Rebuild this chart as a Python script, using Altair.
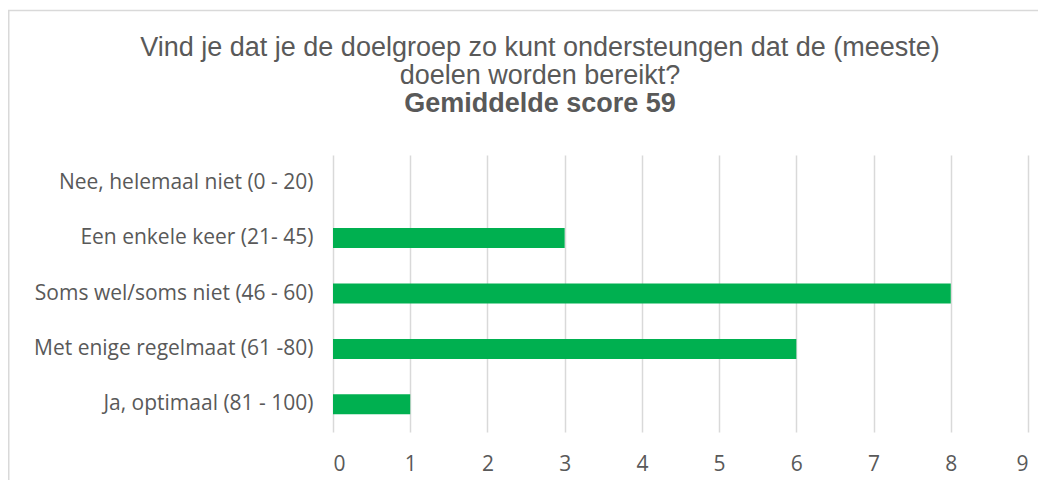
import altair as alt
import pandas as pd

categories = [
    "Nee, helemaal niet (0 - 20)",
    "Een enkele keer (21- 45)",
    "Soms wel/soms niet (46 - 60)",
    "Met enige regelmaat (61 -80)",
    "Ja, optimaal (81 - 100)",
]
counts = [0, 3, 8, 6, 1]
x_ticks = list(range(0, 10))

title_lines = [
    "Vind je dat je de doelgroep zo kunt ondersteungen dat de (meeste)",
    "doelen worden bereikt?",
]
subtitle = "Gemiddelde score 59"

df = pd.DataFrame({"cat": categories, "n": counts})

PL, PT = 325, 147  # padding left / top
W, H = 695, 277

bars = alt.Chart(df).mark_bar(color="#00B050", size=20).encode(
    x=alt.X(
        "n:Q",
        scale=alt.Scale(domain=[0, 9], nice=False),
        axis=alt.Axis(
            values=x_ticks, title=None, domain=False, ticks=False,
            grid=True, gridColor="#d9d9d9", gridWidth=1.5,
            labelFont="Open Sans", labelFontSize=21, labelColor="#595959",
            labelPadding=21,
        ),
    ),
    y=alt.Y(
        "cat:N",
        sort=categories,
        axis=alt.Axis(
            title=None, domain=False, ticks=False, grid=False,
            labelFont="Open Sans", labelFontSize=21, labelColor="#595959",
            labelPadding=20, labelLimit=400,
        ),
    ),
)

one = pd.DataFrame({"a": [0]})

border = alt.Chart(one).mark_rect(
    fill=None, stroke="#d9d9d9", strokeWidth=1.5
).encode(
    x=alt.value(0.75 - PL),
    x2=alt.value(1100 - PL),
    y=alt.value(2.5 - PT),
    y2=alt.value(600 - PT),
)

title_cx = 540 - 8 - PL
t1 = alt.Chart(one).mark_text(
    text=title_lines[0], font="Liberation Sans", fontSize=27,
    color="#595959", baseline="alphabetic", align="center",
).encode(x=alt.value(title_cx), y=alt.value(56 - 8 - PT))
t2 = alt.Chart(one).mark_text(
    text=title_lines[1], font="Liberation Sans", fontSize=27,
    color="#595959", baseline="alphabetic", align="center",
).encode(x=alt.value(title_cx), y=alt.value(84 - 8 - PT))
t3 = alt.Chart(one).mark_text(
    text=subtitle, font="Liberation Sans", fontSize=27, fontWeight="bold",
    color="#595959", baseline="alphabetic", align="center",
).encode(x=alt.value(title_cx), y=alt.value(112 - 8 - PT))

chart = alt.layer(border, bars, t1, t2, t3).properties(
    width=W,
    height=H,
    autosize=alt.AutoSizeParams(type="none"),
    padding={"left": PL, "top": PT, "right": 10, "bottom": 48},
).configure_view(stroke=None)

chart.save("out.html", embed_options={"renderer": "svg", "actions": False})
